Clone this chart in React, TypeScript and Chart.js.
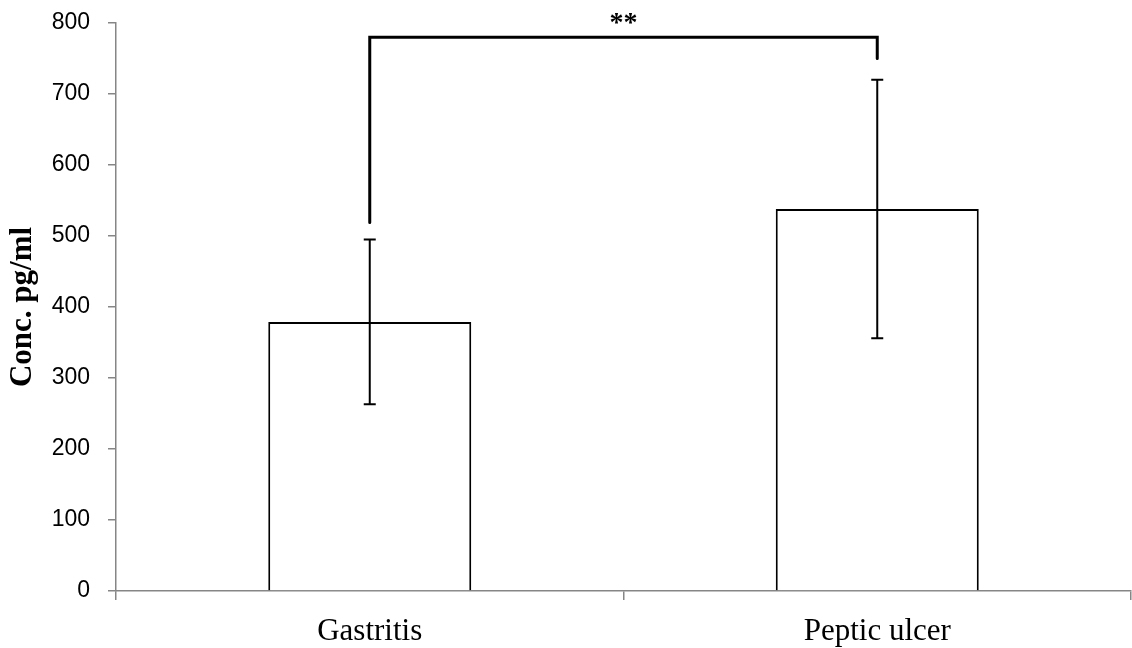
import React, { useEffect, useRef } from "react";
import { Chart, registerables } from "chart.js";

Chart.register(...registerables);

const categories = ["Gastritis", "Peptic ulcer"];
const means = [379, 538];
const sds = [116, 182];
const yTicks = [0, 100, 200, 300, 400, 500, 600, 700, 800];
// significance bracket: left leg end, top, right leg end (axis units)
const bracketLeft = 519;
const bracketTop = 780;
const bracketRight = 750;
const bracketLabel = "**";

const overlayPlugin = {
  id: "overlay",
  afterDatasetsDraw(chart: any) {
    const ctx = chart.ctx;
    const x = chart.scales.x;
    const y = chart.scales.y;
    ctx.save();
    ctx.strokeStyle = "#000";
    ctx.lineWidth = 2;
    ctx.lineCap = "butt";
    means.forEach((m, i) => {
      const cx = x.getPixelForValue(i);
      const yt = y.getPixelForValue(m + sds[i]);
      const yb = y.getPixelForValue(m - sds[i]);
      ctx.beginPath();
      ctx.moveTo(cx, yt);
      ctx.lineTo(cx, yb);
      ctx.moveTo(cx - 6, yt);
      ctx.lineTo(cx + 6, yt);
      ctx.moveTo(cx - 6, yb);
      ctx.lineTo(cx + 6, yb);
      ctx.stroke();
    });
    const x0 = x.getPixelForValue(0);
    const x1 = x.getPixelForValue(1);
    ctx.lineWidth = 3;
    ctx.lineCap = "round";
    ctx.lineJoin = "miter";
    ctx.beginPath();
    ctx.moveTo(x0, y.getPixelForValue(bracketLeft));
    ctx.lineTo(x0, y.getPixelForValue(bracketTop));
    ctx.lineTo(x1, y.getPixelForValue(bracketTop));
    ctx.lineTo(x1, y.getPixelForValue(bracketRight));
    ctx.stroke();
    ctx.fillStyle = "#000";
    ctx.font = "bold 28px 'Liberation Serif', 'Times New Roman', serif";
    ctx.textAlign = "center";
    ctx.textBaseline = "alphabetic";
    ctx.fillText(bracketLabel, (x0 + x1) / 2, y.getPixelForValue(bracketTop) - 6);
    ctx.restore();
  },
};

export default function App() {
  const ref = useRef<HTMLCanvasElement | null>(null);
  useEffect(() => {
    document.body.style.margin = "0";
    const canvas = ref.current;
    if (!canvas) return;
    const chart = new Chart(canvas, {
      type: "bar",
      data: {
        labels: categories,
        datasets: [
          {
            data: means,
            backgroundColor: "#ffffff",
            borderColor: "#000000",
            borderWidth: 2,
            barPercentage: 0.4,
            categoryPercentage: 1,
          },
        ],
      },
      options: {
        responsive: false,
        animation: false,
        devicePixelRatio: 1,
        layout: { padding: { top: 23, right: 1, left: 0, bottom: 0 } },
        plugins: { legend: { display: false }, tooltip: { enabled: false } },
        scales: {
          x: {
            grid: {
              display: true,
              drawOnChartArea: false,
              drawTicks: true,
              tickLength: 9,
              color: "#868686",
              lineWidth: 1.5,
              offset: true,
            },
            border: { display: true, color: "#868686", width: 1.5 },
            ticks: {
              color: "#000",
              padding: 13,
              font: { family: "'Liberation Serif', 'Times New Roman', serif", size: 31, lineHeight: 1.2 },
            },
            afterFit(scale: any) {
              scale.height = 57;
              scale.paddingLeft = 0;
              scale.paddingRight = 0;
            },
          },
          y: {
            min: 0,
            max: 800,
            afterBuildTicks(scale: any) {
              scale.ticks = yTicks.map((v) => ({ value: v }));
            },
            grid: {
              display: true,
              drawOnChartArea: false,
              drawTicks: true,
              tickLength: 8,
              color: "#868686",
              lineWidth: 1.5,
            },
            border: { display: true, color: "#868686", width: 1.5 },
            ticks: {
              color: "#000",
              padding: 18,
              font: { family: "'Liberation Sans', Arial, sans-serif", size: 23 },
            },
            title: {
              display: true,
              text: "Conc. pg/ml",
              color: "#000",
              padding: { top: 7, bottom: 0 },
              font: { family: "'Liberation Serif', 'Times New Roman', serif", size: 31, weight: "bold", lineHeight: 1 },
            },
            afterFit(scale: any) {
              scale.width = 116;
              scale.paddingTop = 0;
              scale.paddingBottom = 0;
            },
          },
        },
      },
      plugins: [overlayPlugin],
    });
    return () => chart.destroy();
  }, []);
  return (
    <div style={{ width: 1132, height: 648 }}>
      <canvas ref={ref} width={1132} height={648} />
    </div>
  );
}
